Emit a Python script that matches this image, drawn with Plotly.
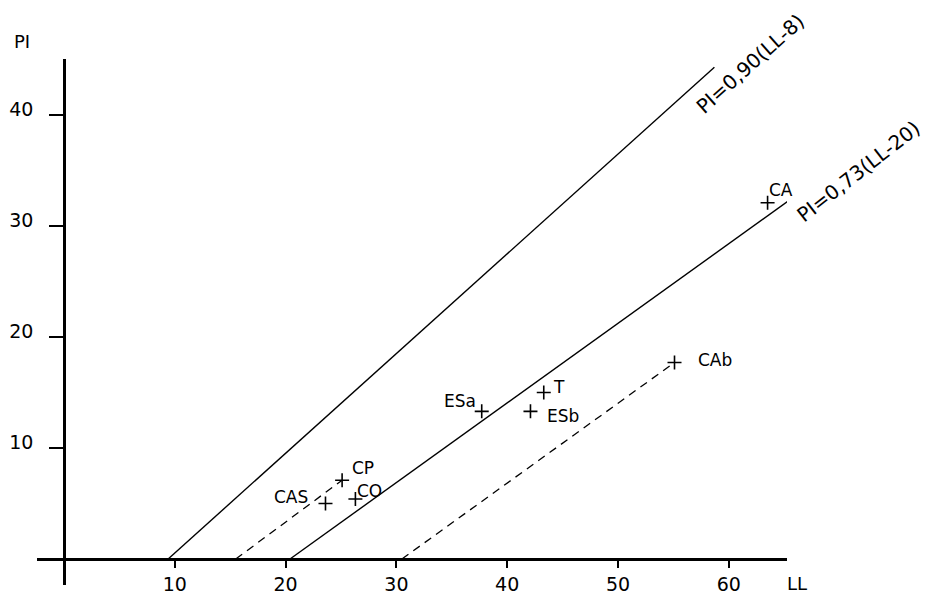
import plotly.graph_objects as go

# ---- data ----
sample_names = ["CAS", "CO", "CP", "ESa", "T", "ESb", "CAb", "CA"]
sample_ll = [23.6, 26.3, 25.1, 37.7, 43.3, 42.1, 55.1, 63.5]
sample_pi = [5.0, 5.4, 7.1, 13.3, 15.0, 13.3, 17.7, 32.1]

u_line_ll = [9.4, 58.7]
u_line_pi = [0.0, 44.3]
a_line_ll = [20.4, 67.8]
a_line_pi = [0.0, 34.0]
dash1_ll = [15.5, 25.1]
dash1_pi = [0.0, 7.1]
dash2_ll = [30.5, 55.1]
dash2_pi = [0.0, 17.7]

x_ticks = [10, 20, 30, 40, 50, 60]
x_ticktext = ["10", "20", "30", "40", "50", "60"]
y_ticks = [10, 20, 30, 40]
y_ticktext = ["10", "20", "30", "40"]

u_label = "PI=0,90(LL-8)"
a_label = "PI=0,73(LL-20)"

# ---- figure ----
W, H = 934, 598
FONT = "DejaVu Sans, Liberation Sans, Arial, sans-serif"

fig = go.Figure()

line_style = dict(color="black", width=1.4)
fig.add_trace(go.Scatter(x=u_line_ll, y=u_line_pi, mode="lines", line=line_style, hoverinfo="skip"))
fig.add_trace(go.Scatter(x=a_line_ll, y=a_line_pi, mode="lines", line=line_style, hoverinfo="skip"))
fig.add_trace(go.Scatter(x=dash1_ll, y=dash1_pi, mode="lines",
                         line=dict(color="black", width=1.3, dash="8px,6px"), hoverinfo="skip"))
fig.add_trace(go.Scatter(x=dash2_ll, y=dash2_pi, mode="lines",
                         line=dict(color="black", width=1.3, dash="8px,6px"), hoverinfo="skip"))

fig.add_trace(go.Scatter(
    x=sample_ll, y=sample_pi, mode="markers",
    marker=dict(symbol="cross-thin", size=10, line=dict(color="black", width=1.6)),
    hoverinfo="skip"))

# label offsets in pixels (style only)
offsets = {
    "CAS": (-34, 7), "CO": (14, 8), "CP": (21, 12), "ESa": (-22, 10),
    "T": (15, 6), "ESb": (33, -5), "CAb": (40, 3), "CA": (13, 13),
}
for name, lx, ly in zip(sample_names, sample_ll, sample_pi):
    dx, dy = offsets[name]
    fig.add_annotation(x=lx, y=ly, xref="x", yref="y", text=name, showarrow=False,
                       xanchor="center", yanchor="middle", borderpad=0,
                       xshift=dx, yshift=dy, font=dict(family=FONT, size=17, color="black"))

# line labels
fig.add_annotation(x=750 / W, y=1 - 64 / H, xref="paper", yref="paper", text=u_label,
                   xanchor="center", yanchor="middle",
                   showarrow=False, textangle=-42, font=dict(family=FONT, size=20, color="black"))
fig.add_annotation(x=858 / W, y=1 - 172 / H, xref="paper", yref="paper", text=a_label,
                   xanchor="center", yanchor="middle",
                   showarrow=False, textangle=-38, font=dict(family=FONT, size=20, color="black"))

# axis titles
fig.add_annotation(x=22 / W, y=1 - 42 / H, xref="paper", yref="paper", text="PI",
                   xanchor="center", yanchor="middle",
                   showarrow=False, font=dict(family=FONT, size=18, color="black"))
fig.add_annotation(x=797 / W, y=1 - 583 / H, xref="paper", yref="paper", text="LL",
                   xanchor="center", yanchor="middle",
                   showarrow=False, font=dict(family=FONT, size=18, color="black"))

px_per = 11.08
x0_px, y0_px = 64, 559
x_left_px, x_right_px = 37, 787
y_top_px, y_bot_px = 59, 585

fig.update_layout(
    width=W, height=H,
    margin=dict(l=0, r=0, t=0, b=0),
    paper_bgcolor="white", plot_bgcolor="white",
    showlegend=False,
    font=dict(family=FONT, size=18, color="black"),
    xaxis=dict(
        domain=[x_left_px / W, x_right_px / W],
        range=[(x_left_px - x0_px) / px_per, (x_right_px - x0_px) / px_per],
        anchor="free", position=1 - y0_px / H,
        showline=True, linecolor="black", linewidth=2.5,
        ticks="outside", ticklen=7, tickwidth=2, tickcolor="black",
        tickvals=x_ticks, ticktext=x_ticktext,
        showgrid=False, zeroline=False, automargin=False,
        tickfont=dict(family=FONT, size=19, color="black"),
    ),
    yaxis=dict(
        domain=[1 - y_bot_px / H, 1 - y_top_px / H],
        range=[(y0_px - y_bot_px) / 11.1, (y0_px - y_top_px) / 11.1],
        anchor="free", position=x0_px / W,
        showline=True, linecolor="black", linewidth=2.5,
        ticks="outside", ticklen=14, tickwidth=1.5, tickcolor="black",
        tickvals=y_ticks, ticktext=y_ticktext,
        ticklabelstandoff=12, ticklabelshift=-6,
        showgrid=False, zeroline=False, automargin=False,
        tickfont=dict(family=FONT, size=19, color="black"),
    ),
)

fig.write_html("out.html")
